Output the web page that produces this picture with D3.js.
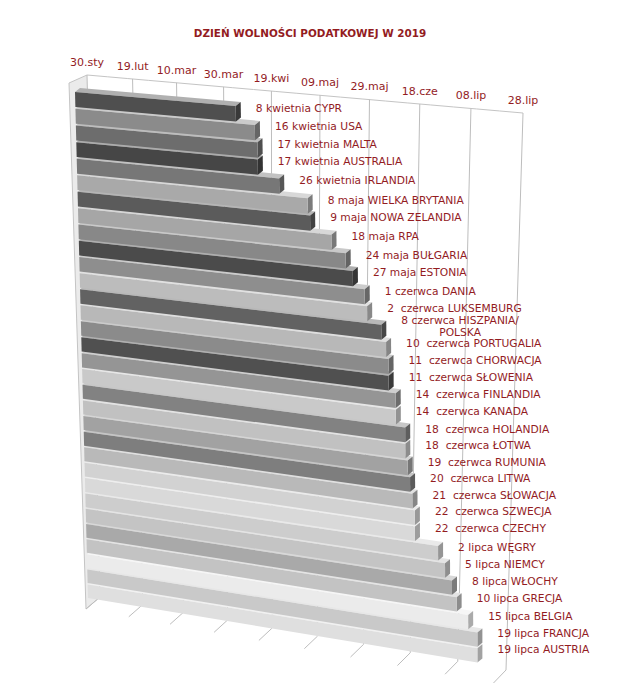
<!DOCTYPE html>
<html><head><meta charset="utf-8">
<script src="https://cdn.jsdelivr.net/npm/d3@7"></script>
<style>
body{margin:0;background:#fff;}
svg text{font-family:"DejaVu Sans",Verdana,sans-serif;}
</style></head><body>
<svg id="chart" width="640" height="700"></svg>
<script>
// ---------- data ----------
const countries = ["CYPR","USA","MALTA","AUSTRALIA","IRLANDIA","WIELKA BRYTANIA","NOWA ZELANDIA","RPA","BUŁGARIA","ESTONIA","DANIA","LUKSEMBURG","HISZPANIA/POLSKA","PORTUGALIA","CHORWACJA","SŁOWENIA","FINLANDIA","KANADA","HOLANDIA","ŁOTWA","RUMUNIA","LITWA","SŁOWACJA","SZWECJA","CZECHY","WĘGRY","NIEMCY","WŁOCHY","GRECJA","BELGIA","FRANCJA","AUSTRIA"];
const freedomDates = ["2019-04-08","2019-04-16","2019-04-17","2019-04-17","2019-04-26","2019-05-08","2019-05-09","2019-05-18","2019-05-24","2019-05-27","2019-06-01","2019-06-02","2019-06-08","2019-06-10","2019-06-11","2019-06-11","2019-06-14","2019-06-14","2019-06-18","2019-06-18","2019-06-19","2019-06-20","2019-06-21","2019-06-22","2019-06-22","2019-07-02","2019-07-05","2019-07-08","2019-07-10","2019-07-15","2019-07-19","2019-07-19"];
const dateLabels = ["8 kwietnia","16 kwietnia","17 kwietnia","17 kwietnia","26 kwietnia","8 maja","9 maja","18 maja","24 maja","27 maja","1 czerwca","2  czerwca","8 czerwca","10  czerwca","11  czerwca","11  czerwca","14  czerwca","14  czerwca","18  czerwca","18  czerwca","19  czerwca","20  czerwca","21  czerwca","22  czerwca","22  czerwca","2 lipca","5 lipca","8 lipca","10 lipca","15 lipca","19 lipca","19 lipca"];
const tickDates = ["2019-01-30","2019-02-19","2019-03-10","2019-03-30","2019-04-19","2019-05-09","2019-05-29","2019-06-18","2019-07-08","2019-07-28"];
const tickLabels = ["30.sty","19.lut","10.mar","30.mar","19.kwi","09.maj","29.maj","18.cze","08.lip","28.lip"];
const titleText = "DZIEŃ WOLNOŚCI PODATKOWEJ W 2019";
const barColors = ["#4f4f4f","#8b8b8b","#6d6d6d","#464646","#777777","#a9a9a9","#5b5b5b","#a6a6a6","#888888","#4b4b4b","#8e8e8e","#bcbcbc","#626262","#b8b8b8","#8b8b8b","#505050","#959595","#c9c9c9","#828282","#c1c1c1","#a2a2a2","#7e7e7e","#b9b9b9","#d2d2d2","#d9d9d9","#cdcdcd","#c4c4c4","#a9a9a9","#c3c3c3","#ebebeb","#c9c9c9","#dfdfdf"];

// ---------- scales ----------
const parse = d3.utcParse("%Y-%m-%d");
const uScale = d3.scaleUtc()
  .domain([parse(tickDates[0]), parse(tickDates[tickDates.length-1])])
  .range([0,1]);
const vScale = d3.scaleBand().domain(d3.range(countries.length)).range([0,1]).paddingInner(0.1).paddingOuter(0);

// ---------- 3D-ish projection ----------
function homography(q){
  const [x0,y0]=q[0],[x1,y1]=q[1],[x2,y2]=q[2],[x3,y3]=q[3];
  const dx1=x1-x2,dx2=x3-x2,dx3=x0-x1+x2-x3,dy1=y1-y2,dy2=y3-y2,dy3=y0-y1+y2-y3;
  const den=dx1*dy2-dx2*dy1;
  const g=(dx3*dy2-dx2*dy3)/den,h=(dx1*dy3-dx3*dy1)/den;
  const a=x1-x0+g*x1,b=x3-x0+h*x3,c=x0,d=y1-y0+g*y1,e=y3-y0+h*y3,f=y0;
  return (u,v)=>{const w=g*u+h*v+1;return [(a*u+b*v+c)/w,(d*u+e*v+f)/w];};
}
// back wall (u: value, v: 0 = top edge, 1 = floor)
const backWall = homography([[87,75],[523,113],[506,670],[100,597]]);
// depth vectors from back to front edge
const wallDepthTop=[-18,8], wallDepthBottom=[-14,12];
const floorDepthLeft=[-14,12], floorDepthRight=[-12.5,13];
// front plane of the bars
const FQ={tl:[75,92],tr:[498,129],br:[498,666],bl:[88,598]}, persp=0.06;
function front(u,v){
  const t=v*(1+persp)/(1+persp*v);
  const tx=FQ.tl[0]+(FQ.tr[0]-FQ.tl[0])*u, ty=FQ.tl[1]+(FQ.tr[1]-FQ.tl[1])*u;
  const bx=FQ.bl[0]+(FQ.br[0]-FQ.bl[0])*u, by=FQ.bl[1]+(FQ.br[1]-FQ.bl[1])*u;
  return [tx+(bx-tx)*t, ty+(by-ty)*t];
}
const barDepth=[5,-4];
const add=(p,d)=>[p[0]+d[0],p[1]+d[1]];
const lerp2=(a,b,t)=>[a[0]+(b[0]-a[0])*t,a[1]+(b[1]-a[1])*t];

const svg=d3.select("#chart");
const red="#931c1f";

// ---------- walls ----------
const gWall=svg.append("g");
const lwTopBack=backWall(0,0), lwBotBack=backWall(0,1);
const lwTopFront=add(lwTopBack,wallDepthTop), lwBotFront=add(lwBotBack,wallDepthBottom);
gWall.append("polygon")
  .attr("points",[lwTopBack,lwTopFront,lwBotFront,lwBotBack].map(p=>p.join(",")).join(" "))
  .attr("fill","#ebebeb").attr("stroke","none");
gWall.append("path")
  .attr("d",d3.line()([lwTopBack,lwTopFront,lwBotFront,lwBotBack]))
  .attr("fill","none").attr("stroke","#c4c4c4").attr("stroke-width",1);
// top edge of back wall
gWall.append("path").attr("d",d3.line()(d3.range(0,1.001,0.05).map(u=>backWall(u,0))))
  .attr("fill","none").attr("stroke","#c4c4c4").attr("stroke-width",1);
// grid lines on back wall + floor
tickDates.forEach(td=>{
  const u=uScale(parse(td));
  gWall.append("line")
    .attr("x1",backWall(u,0)[0]).attr("y1",backWall(u,0)[1])
    .attr("x2",backWall(u,1)[0]).attr("y2",backWall(u,1)[1])
    .attr("stroke","#bdbdbd").attr("stroke-width",1);
  const b=backWall(u,1), f=add(b,lerp2(floorDepthLeft,floorDepthRight,u));
  gWall.append("line").attr("x1",b[0]).attr("y1",b[1]).attr("x2",f[0]).attr("y2",f[1])
    .attr("stroke","#bdbdbd").attr("stroke-width",1);
});

// ---------- bars ----------
const gBars=svg.append("g");
const pts=a=>a.map(p=>p[0].toFixed(2)+","+p[1].toFixed(2)).join(" ");
for(let i=countries.length-1;i>=0;i--){
  const u=uScale(parse(freedomDates[i]));
  const v0=vScale(i), v1=v0+vScale.bandwidth();
  const c=barColors[i];
  const fTL=front(0,v0), fTR=front(u,v0), fBR=front(u,v1), fBL=front(0,v1);
  // top face
  gBars.append("polygon").attr("points",pts([fTL,fTR,add(fTR,barDepth),add(fTL,barDepth)]))
    .attr("fill",d3.interpolateRgb(c,"#ffffff")(0.55));
  // end cap
  gBars.append("polygon").attr("points",pts([fTR,add(fTR,barDepth),add(fBR,barDepth),fBR]))
    .attr("fill",d3.color(c).darker(0.9));
  // front face
  gBars.append("polygon").attr("points",pts([fTL,fTR,fBR,fBL])).attr("fill",c);
}

// ---------- data labels ----------
const gLab=svg.append("g").attr("fill",red).style("font-size","10.7px");
countries.forEach((name,i)=>{
  const u=uScale(parse(freedomDates[i]));
  const v0=vScale(i), v1=v0+vScale.bandwidth(), vc=(v0+v1)/2;
  const end=front(u,vc);
  const x=end[0]+20, cy=end[1]-6;
  const lines = name.includes("/") ? [dateLabels[i]+" "+name.split("/")[0]+"/", name.split("/")[1]] : [dateLabels[i]+" "+name];
  const lh=11.5;
  const t=gLab.append("text").attr("x",x).attr("y",cy+3.8-(lines.length-1)*lh/2)
    .style("white-space","pre").text(lines[0]);
  if(lines.length>1){
    const w=t.node().getComputedTextLength();
    t.attr("text-anchor","middle").attr("x",x+w/2);
    gLab.append("text").attr("x",x+w/2).attr("y",cy+3.8+lh/2).attr("text-anchor","middle")
      .style("white-space","pre").text(lines[1]);
  }
});

// ---------- axis tick labels ----------
const gAx=svg.append("g").attr("fill",red).style("font-size","11px").attr("text-anchor","middle");
tickDates.forEach((td,k)=>{
  const p=backWall(uScale(parse(td)),0);
  gAx.append("text").attr("x",p[0]).attr("y",p[1]-9.3).text(tickLabels[k]);
});

// ---------- title ----------
svg.append("text").attr("x",310).attr("y",37).attr("text-anchor","middle")
  .attr("fill",red).style("font-size","10.4px").style("font-weight","bold").text(titleText);
</script>
</body></html>
